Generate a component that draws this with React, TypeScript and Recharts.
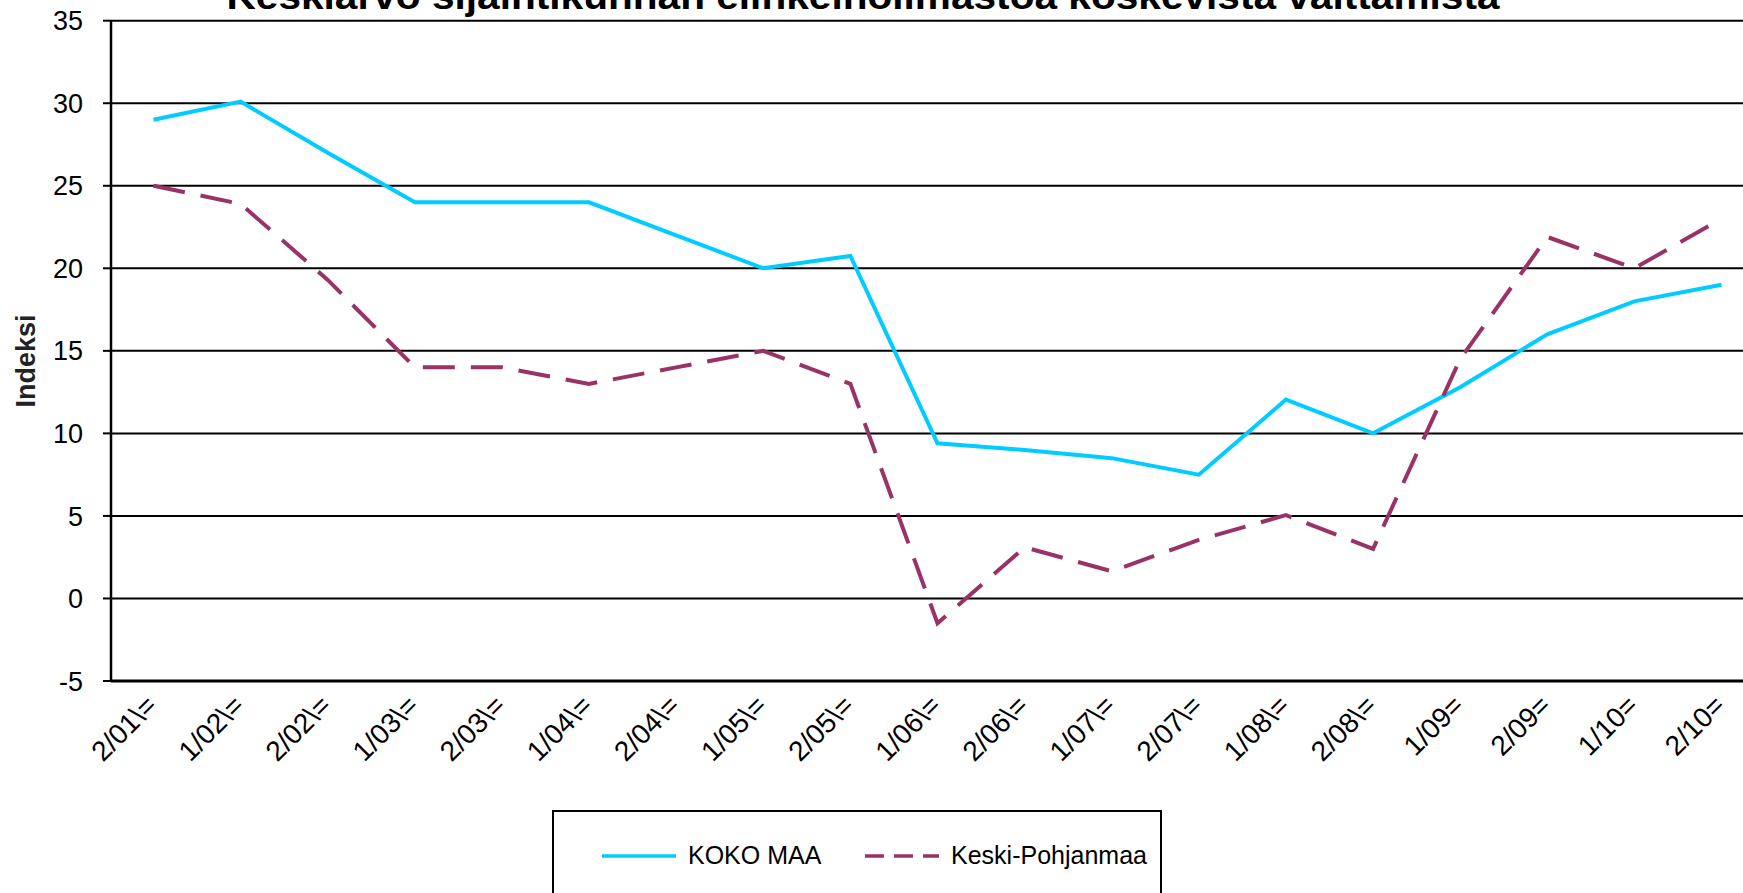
import React from 'react';
import { LineChart, Line, XAxis, YAxis, CartesianGrid } from 'recharts';

const periods = [
  '2/01\\=', '1/02\\=', '2/02\\=', '1/03\\=', '2/03\\=', '1/04\\=', '2/04\\=',
  '1/05\\=', '2/05\\=', '1/06\\=', '2/06\\=', '1/07\\=', '2/07\\=', '1/08\\=',
  '2/08\\=', '1/09=', '2/09=', '1/10=', '2/10=',
];

const kokoMaa = [
  29.0, 30.1, 27.0, 24.0, 24.0, 24.0, 22.0, 20.0, 20.75, 9.4,
  9.0, 8.5, 7.5, 12.05, 10.0, 12.8, 16.0, 18.0, 19.0,
];

const keskiPohjanmaa = [
  25.0, 23.9, 19.3, 14.0, 14.0, 13.0, 14.0, 15.0, 13.0, -1.5,
  3.1, 1.65, 3.55, 5.05, 3.0, 14.5, 21.9, 20.0, 23.0,
];

const yTicks = [-5, 0, 5, 10, 15, 20, 25, 30, 35];

const seriesNames = ['KOKO MAA', 'Keski-Pohjanmaa'];
const seriesColors = ['#00CCFF', '#993366'];

const chartTitle = 'Keskiarvo sijaintikunnan elinkeinoilmastoa koskevista väittämistä';
const yLabel = 'Indeksi';

const data = periods.map((p, i) => ({
  period: p,
  koko: kokoMaa[i],
  keski: keskiPohjanmaa[i],
}));

const FONT = '"Liberation Sans", Arial, sans-serif';

const XTick = (props: any) => {
  const { x, y, payload } = props;
  const tx = x - 9;
  const ty = y + 4;
  return (
    <text
      x={tx}
      y={ty}
      transform={`rotate(-45, ${tx}, ${ty})`}
      textAnchor="end"
      dominantBaseline="hanging"
      fontSize={28}
      fontFamily={FONT}
      fill="#000"
    >
      {payload.value}
    </text>
  );
};

export default function App() {
  return (
    <div
      style={{
        position: 'fixed',
        left: 0,
        top: 0,
        width: 1743,
        height: 893,
        overflow: 'hidden',
        background: '#fff',
      }}
    >
      <LineChart
        width={1764}
        height={893}
        data={data}
        margin={{ top: 20.7, right: 0, left: 0, bottom: 112 }}
      >
        <CartesianGrid horizontal vertical={false} stroke="#000" strokeWidth={2} />
        <XAxis
          dataKey="period"
          interval={0}
          height={100}
          padding={{ left: 42.5, right: 42.5 }}
          axisLine={{ stroke: '#000', strokeWidth: 3 }}
          tickLine={false}
          tick={<XTick />}
        />
        <YAxis
          width={111}
          domain={[-5, 35]}
          ticks={yTicks}
          interval={0}
          axisLine={{ stroke: '#000', strokeWidth: 2.5 }}
          tickLine={{ stroke: '#000', strokeWidth: 2 }}
          tickSize={8}
          tickMargin={20}
          tick={{ fontSize: 27, fontFamily: FONT, fill: '#000' }}
        />
        <Line
          dataKey="koko"
          name={seriesNames[0]}
          stroke={seriesColors[0]}
          strokeWidth={4}
          dot={false}
          isAnimationActive={false}
        />
        <Line
          dataKey="keski"
          name={seriesNames[1]}
          stroke={seriesColors[1]}
          strokeWidth={4}
          strokeDasharray="32 16"
          dot={false}
          isAnimationActive={false}
        />
      </LineChart>

      {/* title (cut off at the top like the source) and y label */}
      <svg
        width={1743}
        height={893}
        style={{ position: 'absolute', left: 0, top: 0, pointerEvents: 'none' }}
      >
        <text
          x={863}
          y={9}
          textAnchor="middle"
          fontSize={36}
          fontWeight="bold"
          fontFamily={FONT}
          textLength={1273}
          lengthAdjust="spacingAndGlyphs"
          fill="#000"
        >
          {chartTitle}
        </text>
        <text
          x={26}
          y={361}
          transform="rotate(-90, 26, 361)"
          textAnchor="middle"
          dominantBaseline="central"
          fontSize={27}
          fontWeight="bold"
          fontFamily={FONT}
          fill="#222"
        >
          {yLabel}
        </text>
      </svg>

      {/* legend */}
      <div
        style={{
          position: 'absolute',
          left: 552,
          top: 810,
          width: 610,
          height: 120,
          border: '2px solid #000',
          boxSizing: 'border-box',
        }}
      >
        {seriesNames.map((name, i) => (
          <div
            key={name}
            style={{
              position: 'absolute',
              left: i === 0 ? 48 : 311,
              top: 29,
              display: 'flex',
              alignItems: 'center',
              fontFamily: FONT,
              fontSize: 25,
              color: '#000',
              whiteSpace: 'nowrap',
            }}
          >
            <svg width={74} height={8} style={{ marginRight: 12 }}>
              <line
                x1={0}
                y1={4}
                x2={74}
                y2={4}
                stroke={seriesColors[i]}
                strokeWidth={3.5}
                strokeDasharray={i === 1 ? '19 10' : undefined}
              />
            </svg>
            {name}
          </div>
        ))}
      </div>
    </div>
  );
}
